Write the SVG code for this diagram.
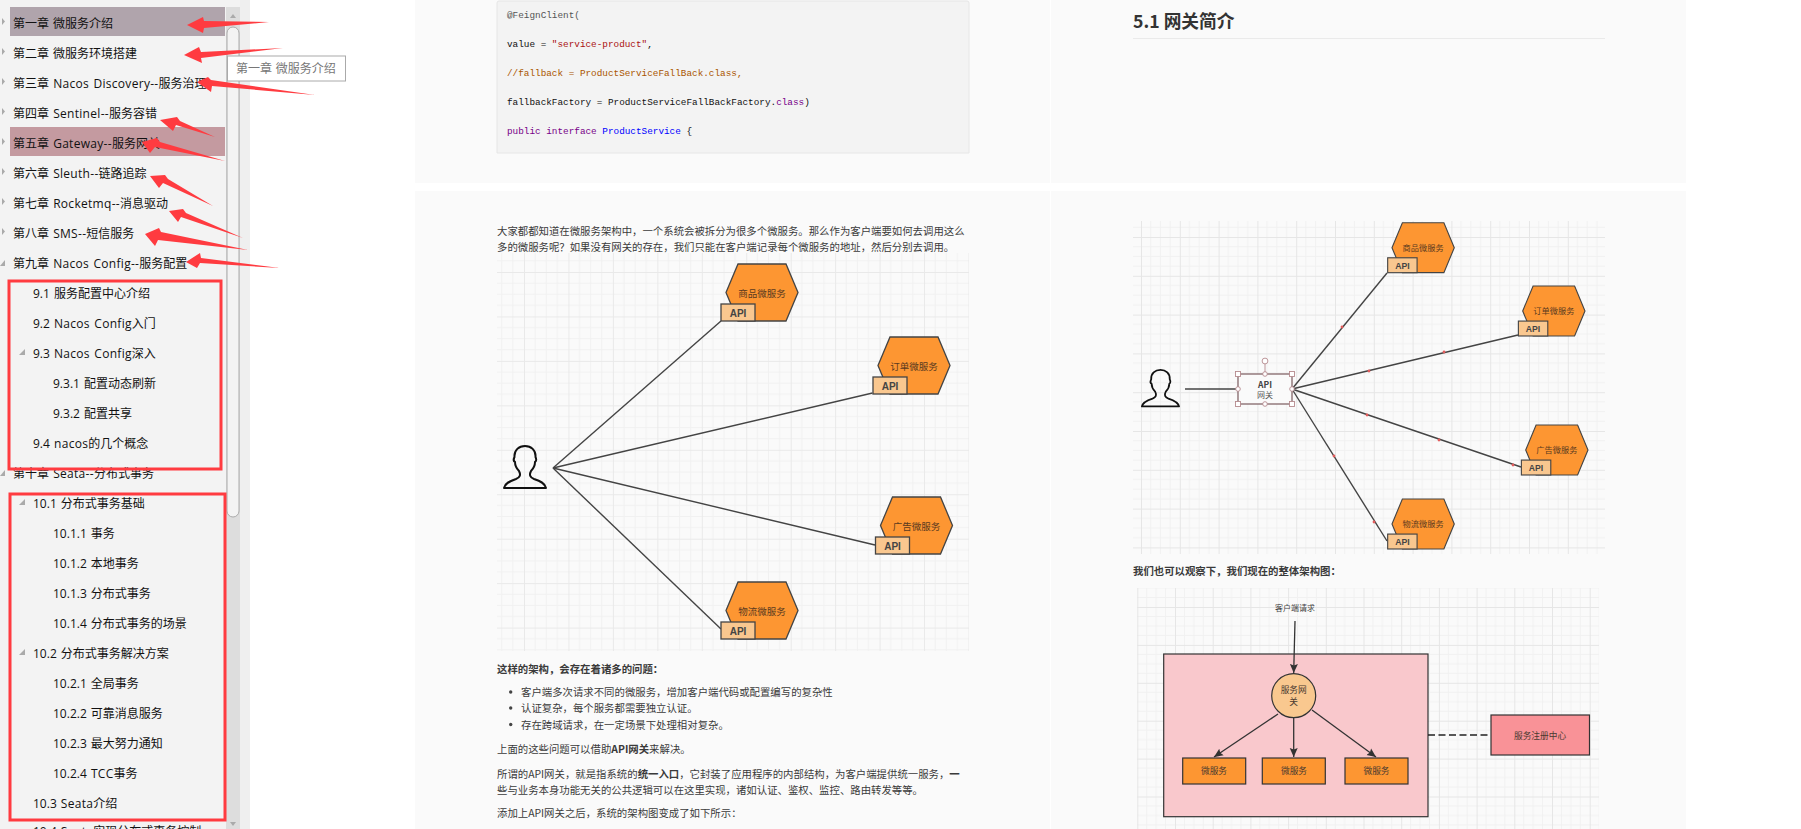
<svg xmlns="http://www.w3.org/2000/svg" xmlns:xlink="http://www.w3.org/1999/xlink" width="1801" height="829" viewBox="0 0 1801 829">
<style>
text{font-family:"Noto Sans CJK SC","Noto Sans",sans-serif}
.toc{font-size:12px;fill:#111;font-family:"Open Sans","Noto Sans CJK SC",sans-serif;word-spacing:1px}
.la{letter-spacing:.3px}
.tri{fill:#aaa}
.arw{fill:#ff3b40}
.box{fill:none;stroke:#ff3b40;stroke-width:3}
.code{font-family:"Liberation Mono",monospace;font-size:9.36px}
.p{font-size:10.4px;fill:#3a3a3a}
.b{font-weight:700}
.hex{fill:#fd9632;stroke:#444;stroke-width:1.3}
.api{fill:#f9c78f;stroke:#444;stroke-width:1.3}
.hl{font-size:9.5px;fill:#5a3a20;text-anchor:middle}
.al{font-size:10px;font-weight:700;fill:#444;text-anchor:middle;font-family:"Liberation Sans",sans-serif}
.ln{stroke:#444;stroke-width:1.4;fill:none}
.usr{fill:none;stroke:#111;stroke-width:2;stroke-linejoin:round}
.dot{fill:#e25c5c}
.hs{fill:#fff;stroke:#b58a8e;stroke-width:.9}
.t8{font-size:8.7px;fill:#4a3a30;text-anchor:middle}
.bx{fill:#fd9632;stroke:#333;stroke-width:1.2}
.arl{stroke:#333;stroke-width:1.3;fill:none;marker-end:url(#ah)}
</style>
<defs>
<marker id="ah" markerUnits="userSpaceOnUse" markerWidth="11" markerHeight="10" refX="9" refY="4.5" orient="auto"><path d="M0,0.5 L9,4.5 L0,8.5 L1.5,4.5 Z" fill="#333"/></marker>
<pattern id="g1" patternUnits="userSpaceOnUse" x="524" y="272" width="44.45" height="44.45">
<path d="M11.1,0V44.45M22.2,0V44.45M33.3,0V44.45M0,11.1H44.45M0,22.2H44.45M0,33.3H44.45" stroke="#f1f1f1" stroke-width="1" fill="none"/>
<path d="M.5,0V44.45M0,.5H44.45" stroke="#e9e9e9" stroke-width="1" fill="none"/>
</pattern>
<pattern id="g2" patternUnits="userSpaceOnUse" x="1141" y="237" width="38.8" height="38.8">
<path d="M9.7,0V38.8M19.4,0V38.8M29.1,0V38.8M0,9.7H38.8M0,19.4H38.8M0,29.1H38.8" stroke="#f1f1f1" stroke-width="1" fill="none"/>
<path d="M.5,0V38.8M0,.5H38.8" stroke="#e6e6e6" stroke-width="1" fill="none"/>
</pattern>
<pattern id="g3" patternUnits="userSpaceOnUse" x="1175" y="607" width="37.7" height="37.9">
<path d="M9.4,0V37.9M18.85,0V37.9M28.3,0V37.9M0,9.5H37.7M0,19H37.7M0,28.4H37.7" stroke="#f1f1f1" stroke-width="1" fill="none"/>
<path d="M.5,0V37.9M0,.5H37.7" stroke="#e6e6e6" stroke-width="1" fill="none"/>
</pattern>
<path id="user" class="usr" d="M1,43 C2,38 7,36 13,34 C17,32.5 18,30 16,26 C14,24 12,22 12,17 C10,16 11,13 11.5,12 C11,5 16,1 22,1 C28,1 33,5 32.5,12 C33,13 34,16 32,17 C32,22 30,24 28,26 C26,30 27,32.5 31,34 C37,36 42,38 43,43 Z"/>
<polygon id="hx" class="hex" points="12,0 60,0 72,28.5 60,57 12,57 0,28.5"/>
<rect id="apibox" class="api" x="-5" y="40" width="34" height="17"/>
</defs>

<rect width="1801" height="829" fill="#fff"/>

<g id="sidebar">
<rect x="0" y="0" width="240" height="829" fill="#f3f3f3"/>
<rect x="240" y="0" width="10" height="829" fill="#efefef"/>
<rect x="226" y="7" width="14" height="822" fill="#dddddd"/>
<rect x="227" y="27" width="12" height="490" rx="6" fill="#f3f3f3" stroke="#aaa" stroke-width="1"/>
<polygon points="233,14 236,18 230,18" fill="#aaa"/>
<polygon points="233,826 236,822 230,822" fill="#aaa"/>
<rect x="10" y="7" width="215" height="29" fill="#b0a4ac"/>
<rect x="10" y="127" width="215" height="29" fill="#c49aa0"/>
<polygon class="tri" points="2,18 5,21.5 2,25"/><polygon class="tri" points="2,48 5,51.5 2,55"/><polygon class="tri" points="2,78 5,81.5 2,85"/><polygon class="tri" points="2,108 5,111.5 2,115"/><polygon class="tri" points="2,138 5,141.5 2,145"/><polygon class="tri" points="2,168 5,171.5 2,175"/><polygon class="tri" points="2,198 5,201.5 2,205"/><polygon class="tri" points="2,228 5,231.5 2,235"/>
<polygon class="tri" points="5,260 5,266 0,266"/><polygon class="tri" points="5,470 5,476 0,476"/>
<polygon class="tri" points="25,349 25,355 19,355"/><polygon class="tri" points="25,499 25,505 19,505"/><polygon class="tri" points="25,649 25,655 19,655"/>
<text class="toc" x="13" y="28">第一章 微服务介绍</text>
<text class="toc" x="13" y="58">第二章 微服务环境搭建</text>
<text class="toc" x="13" y="88">第三章 <tspan class="la">Nacos Discovery--</tspan>服务治理</text>
<text class="toc" x="13" y="118">第四章 <tspan class="la">Sentinel--</tspan>服务容错</text>
<text class="toc" x="13" y="148">第五章 <tspan class="la">Gateway--</tspan>服务网关</text>
<text class="toc" x="13" y="178">第六章 <tspan class="la">Sleuth--</tspan>链路追踪</text>
<text class="toc" x="13" y="208">第七章 <tspan class="la">Rocketmq--</tspan>消息驱动</text>
<text class="toc" x="13" y="238">第八章 <tspan class="la">SMS--</tspan>短信服务</text>
<text class="toc" x="13" y="268">第九章 <tspan class="la">Nacos Config--</tspan>服务配置</text>
<text class="toc" x="33" y="298">9.1 服务配置中心介绍</text>
<text class="toc" x="33" y="328">9.2 <tspan class="la">Nacos Config</tspan>入门</text>
<text class="toc" x="33" y="358">9.3 <tspan class="la">Nacos Config</tspan>深入</text>
<text class="toc" x="53" y="388">9.3.1 配置动态刷新</text>
<text class="toc" x="53" y="418">9.3.2 配置共享</text>
<text class="toc" x="33" y="448">9.4 <tspan class="la">nacos</tspan>的几个概念</text>
<text class="toc" x="13" y="478">第十章 <tspan class="la">Seata--</tspan>分布式事务</text>
<text class="toc" x="33" y="508">10.1 分布式事务基础</text>
<text class="toc" x="53" y="538">10.1.1 事务</text>
<text class="toc" x="53" y="568">10.1.2 本地事务</text>
<text class="toc" x="53" y="598">10.1.3 分布式事务</text>
<text class="toc" x="53" y="628">10.1.4 分布式事务的场景</text>
<text class="toc" x="33" y="658">10.2 分布式事务解决方案</text>
<text class="toc" x="53" y="688">10.2.1 全局事务</text>
<text class="toc" x="53" y="718">10.2.2 可靠消息服务</text>
<text class="toc" x="53" y="748">10.2.3 最大努力通知</text>
<text class="toc" x="53" y="778">10.2.4 <tspan class="la">TCC</tspan>事务</text>
<text class="toc" x="33" y="808">10.3 <tspan class="la">Seata</tspan>介绍</text>
<text class="toc" x="33" y="836">10.4 <tspan class="la">Seata</tspan>实现分布式事务控制</text>
<rect x="227.5" y="56" width="118" height="25" fill="#fff" stroke="#aaa" stroke-width="1"/>
<text x="236" y="73" font-size="12" fill="#777" style="word-spacing:1px">第一章 微服务介绍</text>
</g>

<g id="annotations">
<polygon class="arw" points="187,25 203,17 204,21 269,22 204,28 203,33"/>
<polygon class="arw" points="184,55 199,47 201,52 283,48 201,58 202,63"/>
<polygon class="arw" points="197,82 208,77 211,80 315,95 212,86 211,92"/>
<polygon class="arw" points="160,120 177,117 180,121 215,137 176,125 173,131"/>
<polygon class="arw" points="142,142 157,138 160,142 225,161 155,147 150,153"/>
<polygon class="arw" points="150,176 165,175 168,179 213,206 163,183 159,188"/>
<polygon class="arw" points="169,211 183,209 186,213 243,238 181,217 178,222"/>
<polygon class="arw" points="145,234 159,228 161,232 248,250 158,240 155,246"/>
<polygon class="arw" points="186,262 200,253 201,258 280,268 200,263 197,268"/>
<rect class="box" x="9" y="281" width="212" height="188"/>
<rect class="box" x="10" y="494" width="215" height="326"/>
</g>

<g id="pages">
<rect x="415" y="0" width="635" height="183" fill="#fafafa"/>
<rect x="1051" y="0" width="635" height="183" fill="#fafafa"/>
<rect x="415" y="191" width="635" height="638" fill="#fafafa"/>
<rect x="1051" y="191" width="635" height="638" fill="#fafafa"/>
</g>

<g id="code">
<path d="M497,153 V3 Q497,1 499,1 H967 Q969,1 969,3 V153 Z" fill="#f3f3f3" stroke="#e6e6e6" stroke-width="1"/>
<text class="code" x="507" y="18" fill="#555">@FeignClient(</text>
<text class="code" x="507" y="47" fill="#111">value = <tspan fill="#a11">"service-product"</tspan>,</text>
<text class="code" x="507" y="76" fill="#a50">//fallback = ProductServiceFallBack.class,</text>
<text class="code" x="507" y="105" fill="#111">fallbackFactory = ProductServiceFallBackFactory.<tspan fill="#708">class</tspan>)</text>
<text class="code" x="507" y="134" fill="#111"><tspan fill="#708">public interface</tspan> <tspan fill="#00f">ProductService</tspan> {</text>
</g>

<g id="left-text">
<text class="p" x="497" y="234.5">大家都都知道在微服务架构中，一个系统会被拆分为很多个微服务。那么作为客户端要如何去调用这么</text>
<text class="p" x="497" y="250.5">多的微服务呢？如果没有网关的存在，我们只能在客户端记录每个微服务的地址，然后分别去调用。</text>
<text class="p b" x="497" y="673">这样的架构，会存在着诸多的问题：</text>
<circle cx="510.7" cy="692" r="1.7" fill="#444"/><circle cx="510.7" cy="708" r="1.7" fill="#444"/><circle cx="510.7" cy="724.5" r="1.7" fill="#444"/>
<text class="p" x="521" y="696">客户端多次请求不同的微服务，增加客户端代码或配置编写的复杂性</text>
<text class="p" x="521" y="712">认证复杂，每个服务都需要独立认证。</text>
<text class="p" x="521" y="728.5">存在跨域请求，在一定场景下处理相对复杂。</text>
<text class="p" x="497" y="753">上面的这些问题可以借助<tspan class="b">API网关</tspan>来解决。</text>
<text class="p" x="497" y="778">所谓的API网关，就是指系统的<tspan class="b">统一入口</tspan>，它封装了应用程序的内部结构，为客户端提供统一服务，<tspan class="b">一</tspan></text>
<text class="p" x="497" y="794">些与业务本身功能无关的公共逻辑可以在这里实现，诸如认证、鉴权、监控、路由转发等等。</text>
<text class="p" x="497" y="817">添加上API网关之后，系统的架构图变成了如下所示：</text>
</g>

<rect id="grid-left" x="497" y="253" width="472" height="398" fill="url(#g1)"/>

<g id="connectors-left">
<path class="ln" d="M553,468 L721,321"/>
<path class="ln" d="M553,468 L872.5,393"/>
<path class="ln" d="M553,468 L875,545"/>
<path class="ln" d="M553,468 L721,629"/>
</g>
<g id="client-left"><use xlink:href="#user" href="#user" transform="translate(503,445)"/></g>
<g id="svc-product" transform="translate(726,264)"><use href="#hx"/><use href="#apibox"/><text class="hl" x="36" y="32.5">商品微服务</text><text class="al" x="12" y="52.5">API</text></g>
<g id="svc-order" transform="translate(878,337)"><use href="#hx"/><use href="#apibox"/><text class="hl" x="36" y="32.5">订单微服务</text><text class="al" x="12" y="52.5">API</text></g>
<g id="svc-ad" transform="translate(880.5,497)"><use href="#hx"/><use href="#apibox"/><text class="hl" x="36" y="32.5">广告微服务</text><text class="al" x="12" y="52.5">API</text></g>
<g id="svc-logistics" transform="translate(726,582)"><use href="#hx"/><use href="#apibox"/><text class="hl" x="36" y="32.5">物流微服务</text><text class="al" x="12" y="52.5">API</text></g>

<g id="right-text">
<text x="1133" y="28" font-size="17.7" font-weight="700" fill="#333">5.1 网关简介</text>
<rect x="1133" y="38" width="472" height="1" fill="#eaeaea"/>
<text class="p b" x="1133" y="574.5">我们也可以观察下，我们现在的整体架构图：</text>
</g>

<rect id="grid-right" x="1133" y="221" width="472" height="333" fill="url(#g2)"/>

<g id="connectors-right">
<path class="ln" d="M1185,389 H1238"/>
<path class="ln" d="M1292,389 L1387,273"/>
<path class="ln" d="M1292,389 L1518,335"/>
<path class="ln" d="M1292,389 L1521,467"/>
<path class="ln" d="M1292,389 L1387,541"/>
<circle class="dot" cx="1342" cy="327" r="1.4"/><circle class="dot" cx="1444" cy="352" r="1.4"/><circle class="dot" cx="1369" cy="371" r="1.4"/><circle class="dot" cx="1367" cy="415" r="1.4"/><circle class="dot" cx="1439" cy="440" r="1.4"/><circle class="dot" cx="1513" cy="465" r="1.4"/><circle class="dot" cx="1334" cy="456" r="1.4"/><circle class="dot" cx="1374" cy="522" r="1.4"/>
</g>
<g id="client-right"><use href="#user" transform="translate(1141,369) scale(.885,.87)"/></g>
<g id="gateway-selected">
<rect x="1238" y="374" width="54" height="30" fill="#fafafa" stroke="#7a5a5e" stroke-width="1.2"/>
<path d="M1265,364 V374" stroke="#b58a8e" stroke-width=".9"/>
<text x="1265" y="387.5" font-size="8.5" font-weight="700" fill="#444" text-anchor="middle" font-family="Liberation Sans">API</text>
<text x="1265" y="398" font-size="8" fill="#555" text-anchor="middle">网关</text>
<circle class="hs" cx="1265" cy="361" r="2.9"/>
<rect class="hs" x="1235.5" y="371.5" width="5" height="5"/><rect class="hs" x="1289.5" y="371.5" width="5" height="5"/><rect class="hs" x="1235.5" y="401.5" width="5" height="5"/><rect class="hs" x="1289.5" y="401.5" width="5" height="5"/>
<circle class="hs" cx="1265" cy="374" r="2.3"/><circle class="hs" cx="1265" cy="404" r="2.3"/><circle class="hs" cx="1238" cy="389" r="2.3"/><circle class="hs" cx="1292" cy="389" r="2.3"/>
</g>
<g id="r-product" transform="translate(1392,222.7) scale(.865,.877)"><use href="#hx"/><use href="#apibox"/><text class="hl" x="36" y="32.5">商品微服务</text><text class="al" x="12" y="52.5">API</text></g>
<g id="r-order" transform="translate(1522.7,286) scale(.865,.877)"><use href="#hx"/><use href="#apibox"/><text class="hl" x="36" y="32.5">订单微服务</text><text class="al" x="12" y="52.5">API</text></g>
<g id="r-ad" transform="translate(1525.7,425) scale(.865,.877)"><use href="#hx"/><use href="#apibox"/><text class="hl" x="36" y="32.5">广告微服务</text><text class="al" x="12" y="52.5">API</text></g>
<g id="r-logistics" transform="translate(1392,499) scale(.865,.877)"><use href="#hx"/><use href="#apibox"/><text class="hl" x="36" y="32.5">物流微服务</text><text class="al" x="12" y="52.5">API</text></g>

<rect id="grid-bottom" x="1137" y="588" width="462" height="241" fill="url(#g3)"/>
<g id="container"><rect x="1163.7" y="654" width="264.3" height="162.7" fill="#f9c8cc" stroke="#333" stroke-width="1.2"/></g>
<g id="connectors-bottom">
<path class="arl" d="M1295,621 L1293.7,673"/>
<path class="arl" d="M1278,714 L1214,757"/>
<path class="arl" d="M1293.7,718 V757"/>
<path class="arl" d="M1312,710 L1376,757"/>
<path d="M1428,735 H1491" stroke="#222" stroke-width="1.4" stroke-dasharray="7,3.5" fill="none"/>
</g>
<g id="client-request"><text class="t8" x="1295" y="611" style="font-size:8px;fill:#444">客户端请求</text></g>
<g id="gateway"><circle cx="1293.7" cy="695.7" r="22" fill="#f9c88f" stroke="#333" stroke-width="1.2"/><text class="t8" x="1293.7" y="693">服务网</text><text class="t8" x="1293.7" y="705">关</text></g>
<g id="ms1"><rect class="bx" x="1182.7" y="758" width="63" height="26"/><text class="t8" x="1214" y="774">微服务</text></g>
<g id="ms2"><rect class="bx" x="1262.3" y="758" width="63" height="26"/><text class="t8" x="1294" y="774">微服务</text></g>
<g id="ms3"><rect class="bx" x="1345" y="758" width="63" height="26"/><text class="t8" x="1376.5" y="774">微服务</text></g>
<g id="registry"><rect x="1491" y="715" width="98.5" height="40" fill="#f99297" stroke="#333" stroke-width="1.2"/><text class="t8" x="1540" y="738.5">服务注册中心</text></g>
</svg>
